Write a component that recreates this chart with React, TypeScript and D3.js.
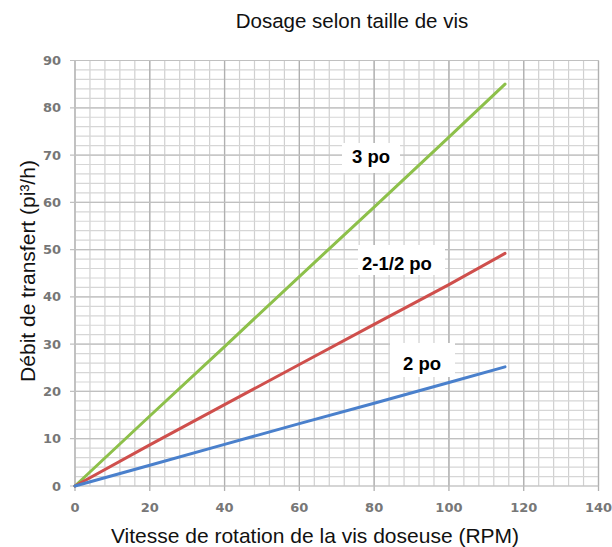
import React from "react";
import * as d3 from "d3";

const rpm = [0, 20, 40, 60, 80, 100, 115];
const debit3po = [0, 14.8, 29.5, 44.3, 59, 73.8, 85];
const debit25po = [0, 8.7, 17.2, 25.7, 34.2, 42.6, 49.2];
const debit2po = [0, 4.4, 8.8, 13.2, 17.5, 21.9, 25.2];

const seriesNames = ["3 po", "2-1/2 po", "2 po"];
const seriesColors = ["#8dc04a", "#cf4f4c", "#4a80cc"];

const xTicks = [0, 20, 40, 60, 80, 100, 120, 140];
const yTicks = [0, 10, 20, 30, 40, 50, 60, 70, 80, 90];

const title = "Dosage selon taille de vis";
const xTitle = "Vitesse de rotation de la vis doseuse (RPM)";
const yTitle = "Débit de transfert (pi³/h)";

// label boxes [x0, y0, x1, y1, textX, textBaseline] in pixel layout
const labelBoxes = [
  [342, 143, 400, 173, 352, 163],
  [358, 245, 445, 275, 362, 270],
  [390, 343, 455, 377, 403, 370],
];

export default function App() {
  const W = 612, H = 547;
  const x = d3.scaleLinear().domain([0, 140]).range([75, 598.5]);
  const y = d3.scaleLinear().domain([0, 90]).range([486, 60.5]);

  const minorX = d3.range(0, 140.001, 4);
  const minorY = d3.range(0, 90.001, 2);

  const series = [debit3po, debit25po, debit2po];
  const line = d3
    .line<number>()
    .x((_, i) => x(rpm[i]))
    .y((d) => y(d));

  const tickFont = "'DejaVu Sans', sans-serif";
  const titleFont = "'Liberation Sans', Arial, sans-serif";

  return (
    <svg
      width={W}
      height={H}
      style={{ position: "absolute", left: 0, top: 0, background: "#fff" }}
    >
      <rect x={0} y={0} width={W} height={H} fill="#fff" />
      {/* minor grid */}
      {minorX.map((v) => (
        <line
          key={"mx" + v}
          x1={x(v)}
          x2={x(v)}
          y1={y(0)}
          y2={y(90)}
          stroke="#d0d0d0"
          strokeWidth={1.2}
        />
      ))}
      {minorY.map((v) => (
        <line
          key={"my" + v}
          x1={x(0)}
          x2={x(140)}
          y1={y(v)}
          y2={y(v)}
          stroke="#d6d6d6"
          strokeWidth={1.2}
        />
      ))}
      {/* major grid */}
      {xTicks.map((v) => (
        <line
          key={"Mx" + v}
          x1={x(v)}
          x2={x(v)}
          y1={y(0) + 5}
          y2={y(90)}
          stroke="#b0b0b0"
          strokeWidth={1.3}
        />
      ))}
      {yTicks.map((v) => (
        <line
          key={"My" + v}
          x1={x(0) - 5}
          x2={x(140)}
          y1={y(v)}
          y2={y(v)}
          stroke="#c0c0c0"
          strokeWidth={1.2}
        />
      ))}
      {/* tick labels */}
      {xTicks.map((v) => (
        <text
          key={"xt" + v}
          x={x(v)}
          y={512}
          textAnchor="middle"
          fontFamily={tickFont}
          fontWeight="bold"
          fontSize={13}
          fill="#777"
        >
          {v}
        </text>
      ))}
      {yTicks.map((v) => (
        <text
          key={"yt" + v}
          x={61}
          y={y(v) + 4.5}
          textAnchor="end"
          fontFamily={tickFont}
          fontWeight="bold"
          fontSize={13}
          fill="#777"
        >
          {v}
        </text>
      ))}
      {/* series */}
      {series.map((s, i) => (
        <path
          key={"s" + i}
          d={line(s) || ""}
          fill="none"
          stroke={seriesColors[i]}
          strokeWidth={3}
          strokeLinecap="round"
          strokeLinejoin="round"
        />
      ))}
      {/* labels */}
      {labelBoxes.map((b, i) => (
        <g key={"lb" + i}>
          <rect x={b[0]} y={b[1]} width={b[2] - b[0]} height={b[3] - b[1]} fill="#fff" />
          <text
            x={b[4]}
            y={b[5]}
            fontFamily={titleFont}
            fontWeight="bold"
            fontSize={18.5}
            fill="#000"
          >
            {seriesNames[i]}
          </text>
        </g>
      ))}
      {/* titles */}
      <text
        x={352}
        y={28}
        textAnchor="middle"
        fontFamily={titleFont}
        fontSize={20.5}
        fill="#111"
      >
        {title}
      </text>
      <text
        x={315}
        y={543}
        textAnchor="middle"
        fontFamily={titleFont}
        fontSize={21}
        fill="#111"
      >
        {xTitle}
      </text>
      <text
        transform={`translate(35, 271) rotate(-90)`}
        textAnchor="middle"
        fontFamily={titleFont}
        fontSize={21}
        fill="#111"
      >
        {yTitle}
      </text>
    </svg>
  );
}
